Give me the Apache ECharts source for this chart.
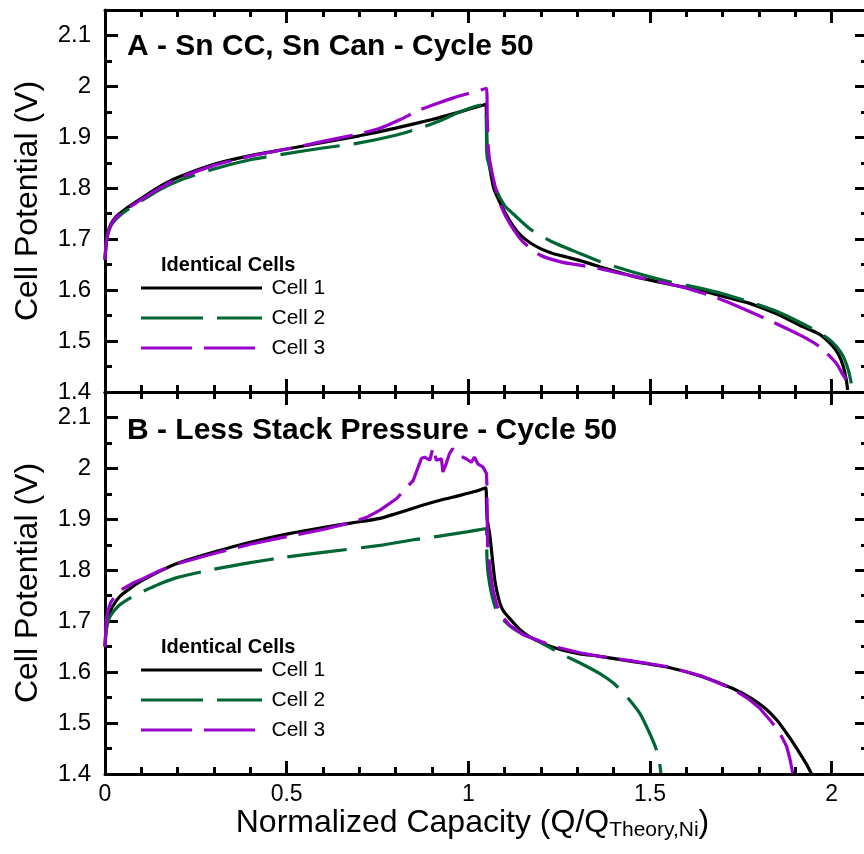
<!DOCTYPE html>
<html>
<head>
<meta charset="utf-8">
<script src="https://cdn.jsdelivr.net/npm/echarts@6/dist/echarts.min.js"></script>
<style>
  html, body { margin: 0; padding: 0; background: #ffffff; }
  #chart { width: 864px; height: 854px; }
</style>
</head>
<body>
<div id="chart"></div>
<script>
// ---- Panel A: Sn current collector, Sn can, cycle 50 ([capacity, potential]) ----
const a_cell1 = [
  [0, 1.66], [0.003, 1.69], [0.008, 1.712], [0.015, 1.728], [0.03, 1.744], [0.05, 1.756],
  [0.1, 1.78], [0.15, 1.803], [0.2, 1.821], [0.3, 1.847], [0.4, 1.864],
  [0.5, 1.877], [0.6, 1.89], [0.7, 1.903], [0.8, 1.918], [0.9, 1.935],
  [0.977, 1.95], [1.03, 1.961], [1.048, 1.965],
  [1.05, 1.93], [1.052, 1.87], [1.059, 1.84], [1.07, 1.80], [1.087, 1.772], [1.1, 1.754],
  [1.123, 1.726], [1.145, 1.707], [1.17, 1.693], [1.2, 1.681], [1.233, 1.672], [1.27, 1.665],
  [1.307, 1.658], [1.362, 1.646], [1.45, 1.628], [1.55, 1.612], [1.637, 1.6], [1.7, 1.588],
  [1.774, 1.574], [1.85, 1.553], [1.912, 1.531], [1.967, 1.513], [2.003, 1.49], [2.02, 1.472],
  [2.032, 1.45], [2.04, 1.425], [2.044, 1.404]
];
const a_cell2 = [
  [0, 1.66], [0.004, 1.698], [0.01, 1.716], [0.02, 1.731], [0.05, 1.752],
  [0.1, 1.775], [0.15, 1.797], [0.2, 1.814], [0.3, 1.838], [0.4, 1.856], [0.5, 1.868],
  [0.6, 1.879], [0.7, 1.889], [0.8, 1.904], [0.867, 1.918], [0.92, 1.932],
  [0.977, 1.95], [1.02, 1.961], [1.048, 1.965],
  [1.05, 1.9], [1.052, 1.86], [1.059, 1.842], [1.075, 1.8], [1.1, 1.766], [1.123, 1.75],
  [1.17, 1.72], [1.23, 1.695], [1.307, 1.672], [1.362, 1.656], [1.45, 1.636], [1.55, 1.617],
  [1.637, 1.604], [1.7, 1.593], [1.774, 1.577], [1.85, 1.558], [1.912, 1.537], [1.97, 1.515],
  [2.003, 1.497], [2.025, 1.478], [2.036, 1.463], [2.047, 1.44], [2.054, 1.417]
];
const a_cell3 = [
  [0, 1.66], [0.003, 1.69], [0.008, 1.71], [0.015, 1.726], [0.03, 1.742], [0.05, 1.754],
  [0.1, 1.778], [0.15, 1.8], [0.2, 1.819], [0.3, 1.845], [0.4, 1.863],
  [0.5, 1.877], [0.6, 1.892], [0.7, 1.907], [0.757, 1.918], [0.81, 1.934], [0.867, 1.954],
  [0.92, 1.968], [0.957, 1.977], [1.0, 1.986], [1.05, 1.996],
  [1.052, 1.94], [1.055, 1.88], [1.06, 1.85], [1.075, 1.8], [1.09, 1.765], [1.114, 1.731],
  [1.15, 1.695], [1.197, 1.669], [1.257, 1.655], [1.307, 1.649], [1.362, 1.642], [1.45, 1.628],
  [1.59, 1.606], [1.68, 1.586], [1.755, 1.564], [1.83, 1.54], [1.912, 1.512], [1.967, 1.489],
  [2.013, 1.456], [2.03, 1.435], [2.04, 1.424]
];

// ---- Panel B: less stack pressure, cycle 50 ----
const b_cell1 = [
  [0, 1.65], [0.004, 1.69], [0.01, 1.71], [0.02, 1.728], [0.04, 1.748], [0.07, 1.765],
  [0.1, 1.779], [0.15, 1.798], [0.2, 1.814], [0.3, 1.836], [0.4, 1.855], [0.5, 1.871],
  [0.6, 1.884], [0.68, 1.893], [0.757, 1.902], [0.8, 1.911], [0.867, 1.926], [0.92, 1.937],
  [0.977, 1.947], [1.02, 1.955], [1.048, 1.962],
  [1.05, 1.93], [1.052, 1.9], [1.059, 1.87], [1.073, 1.78], [1.085, 1.74], [1.095, 1.722],
  [1.114, 1.705], [1.14, 1.685], [1.169, 1.669], [1.21, 1.655], [1.26, 1.643], [1.307, 1.636],
  [1.362, 1.631], [1.45, 1.621], [1.546, 1.61], [1.64, 1.592], [1.728, 1.568], [1.78, 1.548],
  [1.82, 1.527], [1.85, 1.505], [1.876, 1.48], [1.895, 1.46], [1.912, 1.441], [1.93, 1.42],
  [1.944, 1.401]
];
const b_cell2 = [
  [0, 1.65], [0.003, 1.68], [0.01, 1.703], [0.02, 1.716], [0.04, 1.732], [0.07, 1.746],
  [0.1, 1.757], [0.15, 1.773], [0.2, 1.786], [0.3, 1.802], [0.4, 1.815], [0.5, 1.826],
  [0.6, 1.835], [0.757, 1.849], [0.85, 1.86], [0.92, 1.867], [1.0, 1.876], [1.05, 1.882],
  [1.051, 1.83], [1.055, 1.79], [1.065, 1.75], [1.077, 1.722], [1.1, 1.7], [1.123, 1.686],
  [1.155, 1.673], [1.188, 1.663], [1.22, 1.65], [1.26, 1.634], [1.31, 1.617], [1.362, 1.597],
  [1.4, 1.578], [1.436, 1.552], [1.472, 1.519], [1.499, 1.48], [1.518, 1.447], [1.527, 1.418],
  [1.53, 1.402]
];
const b_cell3 = [
  [0, 1.65], [0.003, 1.7], [0.008, 1.72], [0.015, 1.736], [0.03, 1.752], [0.05, 1.764],
  [0.08, 1.776], [0.1, 1.782], [0.15, 1.799], [0.2, 1.813], [0.3, 1.833], [0.4, 1.851],
  [0.5, 1.866], [0.6, 1.88], [0.68, 1.894], [0.72, 1.904], [0.757, 1.918], [0.803, 1.941], [0.848, 1.976],
  [0.871, 2.02], [0.88, 2.022], [0.894, 2.016], [0.903, 2.042], [0.912, 2.016], [0.926, 2.019],
  [0.93, 1.993], [0.939, 2.009], [0.948, 2.029], [0.957, 2.039], [0.967, 2.026], [0.985, 2.022],
  [0.994, 2.019], [1.008, 2.012], [1.017, 2.022], [1.026, 2.009], [1.04, 2.003], [1.05, 1.99],
  [1.051, 1.97], [1.052, 1.9], [1.053, 1.849], [1.06, 1.8], [1.068, 1.761], [1.079, 1.73],
  [1.09, 1.712], [1.114, 1.692], [1.15, 1.674], [1.2, 1.66], [1.25, 1.648], [1.307, 1.638],
  [1.362, 1.631], [1.45, 1.622], [1.546, 1.611], [1.64, 1.593], [1.728, 1.567], [1.77, 1.548],
  [1.802, 1.529], [1.83, 1.506], [1.848, 1.49], [1.865, 1.47], [1.876, 1.454], [1.885, 1.43],
  [1.893, 1.401]
];

const panelTitles = ['A - Sn CC, Sn Can - Cycle 50', 'B - Less Stack Pressure - Cycle 50'];
const cellNames = ['Cell 1', 'Cell 2', 'Cell 3'];
const legendHeading = 'Identical Cells';
const panels = [[a_cell1, a_cell2, a_cell3], [b_cell1, b_cell2, b_cell3]];

// axis ranges and tick spacing
const xRange = [0, 2.1], xMajor = 0.5, xMinor = 0.1;
const yRange = [1.4, 2.15], yMajor = 0.1, yMinor = 0.05;

// ---- styling ----
const FONT = '"Liberation Sans", Arial, Helvetica, sans-serif';
const lineColors = ['#000000', '#006633', '#9900cc'];
const lineDashes = ['solid', [60, 14], [50, 12]];
const GRID_LEFT = 105, GRID_WIDTH = 763, GRID_HEIGHT = 382;
const gridTops = [10, 392];

const frameLine = { onZero: false, lineStyle: { color: '#000', width: 3 } };
const tickStyle = { color: '#000', width: 3 };

function xAxesFor(g) {
  const base = {
    gridIndex: g, type: 'value', min: xRange[0], max: xRange[1],
    splitLine: { show: false }, axisLine: frameLine
  };
  const major = (pos, labelled) => Object.assign({}, base, {
    position: pos, interval: xMajor,
    axisTick: { inside: true, length: 13, lineStyle: tickStyle },
    axisLabel: labelled
      ? { show: true, showMaxLabel: false, margin: 9, color: '#000', fontSize: 23, fontFamily: FONT }
      : { show: false }
  });
  const minor = (pos) => Object.assign({}, base, {
    position: pos, interval: xMinor,
    axisLine: { show: false, onZero: false },
    axisTick: { inside: true, length: 7, lineStyle: tickStyle },
    axisLabel: { show: false }
  });
  const bottom = major('bottom', g === 1);
  if (g === 1) {
    Object.assign(bottom, {
      name: '{m|Normalized Capacity (Q/Q}{s|Theory,Ni}{m|)}',
      nameLocation: 'middle',
      nameGap: 27,
      nameTextStyle: {
        color: '#000', fontFamily: FONT, padding: [0, 28, 0, 0],
        rich: {
          m: { fontSize: 32, fontFamily: FONT, color: '#000', verticalAlign: 'top' },
          s: { fontSize: 21, fontFamily: FONT, color: '#000', verticalAlign: 'top', padding: [13, 0, 0, 0] }
        }
      }
    });
  }
  return [bottom, minor('bottom'), major('top', false), minor('top')];
}

function yAxesFor(g) {
  const base = {
    gridIndex: g, type: 'value', min: yRange[0], max: yRange[1],
    splitLine: { show: false }, axisLine: frameLine
  };
  const major = (pos, labelled) => Object.assign({}, base, {
    position: pos, interval: yMajor,
    axisTick: { inside: true, length: 13, lineStyle: tickStyle },
    axisLabel: labelled
      ? { show: true, showMaxLabel: false, margin: 14, color: '#000', fontSize: 24, fontFamily: FONT }
      : { show: false }
  });
  const minor = (pos) => Object.assign({}, base, {
    position: pos, interval: yMinor,
    axisLine: { show: false, onZero: false },
    axisTick: { inside: true, length: 7, lineStyle: tickStyle },
    axisLabel: { show: false }
  });
  const left = major('left', true);
  Object.assign(left, {
    name: 'Cell Potential (V)',
    nameLocation: 'middle',
    nameGap: 61,
    nameTextStyle: { color: '#000', fontSize: 32, fontFamily: FONT }
  });
  return [left, minor('left'), major('right', false), minor('right')];
}

const grids = gridTops.map(top => ({
  left: GRID_LEFT, top: top, width: GRID_WIDTH, height: GRID_HEIGHT,
  containLabel: false, outerBoundsMode: 'none'
}));

const series = [];
panels.forEach((cells, g) => {
  cells.forEach((data, i) => {
    const noisy = g === 1 && i === 2;
    series.push({
      name: cellNames[i],
      type: 'line',
      xAxisIndex: g * 4,
      yAxisIndex: g * 4,
      data: data,
      symbol: 'none',
      smooth: noisy ? false : 0.2,
      lineStyle: { color: lineColors[i], width: 3.2, type: lineDashes[i] },
      z: 2 + i
    });
  });
});

// Panel titles and the in-plot key
const graphic = [];
panels.forEach((cells, g) => {
  const off = gridTops[g] - gridTops[0];
  graphic.push({
    type: 'text', x: 127, y: (g === 0 ? 46.5 : 431),
    style: { text: panelTitles[g], font: 'bold 30px ' + FONT, fill: '#000', textAlign: 'left', textVerticalAlign: 'middle' }
  });
  graphic.push({
    type: 'text', x: 161, y: 265 + off,
    style: { text: legendHeading, font: 'bold 20px ' + FONT, fill: '#000', textAlign: 'left', textVerticalAlign: 'middle' }
  });
  const rowY = [288, 318, 348];
  const rowEnd = [262, 262, 255];
  cellNames.forEach((nm, i) => {
    graphic.push({
      type: 'line',
      shape: { x1: 141, y1: rowY[i] + off, x2: rowEnd[i], y2: rowY[i] + off },
      style: {
        stroke: lineColors[i], lineWidth: 3.2,
        lineDash: i === 0 ? null : (i === 1 ? [62, 14] : [51, 12])
      }
    });
    graphic.push({
      type: 'text', x: 271.5, y: rowY[i] + off,
      style: { text: nm, font: '21px ' + FONT, fill: '#000', textAlign: 'left', textVerticalAlign: 'middle' }
    });
  });
});

const chart = echarts.init(document.getElementById('chart'), null, { renderer: 'canvas' });
chart.setOption({
  animation: false,
  backgroundColor: '#ffffff',
  grid: grids,
  xAxis: [].concat(xAxesFor(0), xAxesFor(1)),
  yAxis: [].concat(yAxesFor(0), yAxesFor(1)),
  series: series,
  graphic: graphic
});
</script>
</body>
</html>
